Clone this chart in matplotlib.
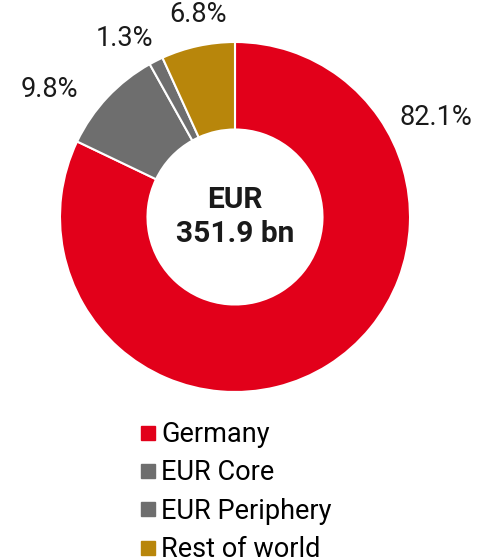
import matplotlib.pyplot as plt
from matplotlib.lines import Line2D

# --- data ---
labels = ['Germany', 'EUR Core', 'EUR Periphery', 'Rest of world']
shares = [82.1, 9.8, 1.3, 6.8]
colors = ['#E2001A', '#6E6E6E', '#6E6E6E', '#B8860B']
pct_labels = ['82.1%', '9.8%', '1.3%', '6.8%']
total_label = 'EUR\n351.9 bn'

plt.rcParams['font.family'] = ['Roboto', 'DejaVu Sans']

W, H = 495, 559
fig = plt.figure(figsize=(W / 100, H / 100), dpi=100)

# donut centre (235, 217) px from top, radius 175 px
cx, cy, r = 235, 217, 175
ax = fig.add_axes([(cx - r) / W, (H - cy - r) / H, 2 * r / W, 2 * r / H])
ax.pie(shares, colors=colors, startangle=90, counterclock=False,
       radius=1.0, wedgeprops=dict(width=0.5, edgecolor='white', linewidth=1.5))
ax.set_xlim(-1, 1)
ax.set_ylim(-1, 1)
ax.set_aspect('equal')
ax.axis('off')

# percentage labels placed by hand
label_pos = [(1.15, 0.57), (-1.06, 0.73), (-0.63, 1.02), (-0.21, 1.16)]
for (x, y), txt in zip(label_pos, pct_labels):
    ax.text(x, y, txt, ha='center', va='center', fontsize=19.5, color='#1a1a1a', clip_on=False)

ax.text(0, 0.0, total_label, ha='center', va='center', fontsize=21.5,
        fontweight='bold', linespacing=1.25, color='#1a1a1a')

handles = [Line2D([], [], marker='s', linestyle='', markersize=10, color=c) for c in colors]
fig.legend(handles, labels, loc='upper left', bbox_to_anchor=(141 / W, 1 - 421 / H),
           frameon=False, fontsize=19.5, handlelength=0.5, handletextpad=0.25,
           labelspacing=0.42, borderaxespad=0, borderpad=0)

fig.savefig('out.png', dpi=100)
